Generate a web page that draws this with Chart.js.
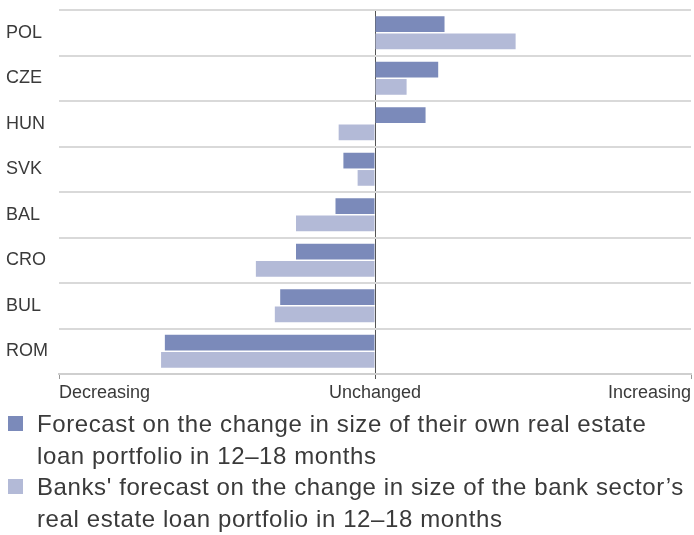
<!DOCTYPE html>
<html>
<head>
<meta charset="utf-8">
<script src="https://cdn.jsdelivr.net/npm/chart.js@4"></script>
<style>
  body { margin: 0; background: #fff; width: 694px; height: 535px; overflow: hidden; position: relative; }
  #wrap { position: absolute; left: 0; top: 0; width: 694px; height: 411px; }
  .legend { position: absolute; left: 0; top: 408px; font-family: "Liberation Sans", Arial, sans-serif; font-size: 24px; letter-spacing: 0.6px; line-height: 31.7px; color: #3a3a3a; }
  .legend .item { position: relative; padding-left: 37px; white-space: nowrap; }
  .legend .swatch { position: absolute; left: 8px; top: 7.5px; width: 15px; height: 15px; }
</style>
</head>
<body>
<div id="wrap"><canvas id="outlookChart"></canvas></div>
<div class="legend" id="legend"></div>
<script>
// Survey categories and net outlook per country
const categories = ['POL', 'CZE', 'HUN', 'SVK', 'BAL', 'CRO', 'BUL', 'ROM'];
const ownPortfolio = [0.22, 0.20, 0.16, -0.10, -0.125, -0.25, -0.30, -0.665];
const sectorPortfolio = [0.445, 0.10, -0.115, -0.055, -0.25, -0.377, -0.317, -0.677];

// Value axis: -1 = decreasing, 0 = unchanged, 1 = increasing
const tickValues = [-1, 0, 1];
const tickLabels = ['Decreasing', 'Unchanged', 'Increasing'];

const seriesNames = [
    ['Forecast on the change in size of their own real estate', 'loan portfolio in 12\u201318 months'],
    ['Banks\' forecast on the change in size of the bank sector\u2019s', 'real estate loan portfolio in 12\u201318 months']
];

const colors = {
    own: '#7b8aba',
    sector: '#b3bad7',
    grid: '#d9d9d9',
    zero: '#555555',
    text: '#3a3a3a'
};

const fontFamily = '"Liberation Sans", Arial, sans-serif';

new Chart(document.getElementById('outlookChart'), {
    type: 'bar',
    data: {
        labels: categories,
        datasets: [{
            label: seriesNames[0].join(' '),
            data: ownPortfolio,
            backgroundColor: colors.own,
            borderWidth: 0,
            categoryPercentage: 0.76,
            barPercentage: 0.91
        }, {
            label: seriesNames[1].join(' '),
            data: sectorPortfolio,
            backgroundColor: colors.sector,
            borderWidth: 0,
            categoryPercentage: 0.76,
            barPercentage: 0.91
        }]
    },
    options: {
        indexAxis: 'y',
        responsive: true,
        maintainAspectRatio: false,
        animation: false,
        layout: { padding: { left: 6, right: 3, top: 10, bottom: 4 } },
        plugins: {
            legend: { display: false },
            tooltip: { enabled: false }
        },
        scales: {
            x: {
                min: -1,
                max: 1,
                afterBuildTicks: (scale) => {
                    scale.ticks = tickValues.map(v => ({ value: v }));
                },
                afterFit: (scale) => {
                    scale.paddingLeft = 0;
                    scale.paddingRight = 0;
                },
                ticks: {
                    align: 'inner',
                    padding: 5,
                    color: colors.text,
                    font: { family: fontFamily, size: 18, lineHeight: 1 },
                    callback: (value) => tickLabels[tickValues.indexOf(value)]
                },
                grid: {
                    color: (ctx) => ctx.tick && ctx.tick.value === 0 ? colors.zero : 'rgba(0,0,0,0)',
                    tickColor: (ctx) => ctx.tick && ctx.tick.value === 0 ? colors.zero : '#9a9a9a',
                    tickLength: 5,
                    lineWidth: 1
                },
                border: { color: '#cfcfcf', width: 2 }
            },
            y: {
                afterFit: (scale) => {
                    scale.width = 53;
                    scale.paddingTop = 0;
                    scale.paddingBottom = 0;
                },
                ticks: {
                    crossAlign: 'far',
                    color: colors.text,
                    font: { family: fontFamily, size: 18, lineHeight: 1 }
                },
                grid: {
                    color: colors.grid,
                    lineWidth: 2,
                    drawTicks: false
                },
                border: { display: false }
            }
        }
    }
});

// Two-line legend entries below the chart
const legendEl = document.getElementById('legend');
[colors.own, colors.sector].forEach((c, i) => {
    const item = document.createElement('div');
    item.className = 'item';
    item.innerHTML = '<span class="swatch" style="background:' + c + '"></span>' + seriesNames[i].join('<br>');
    legendEl.appendChild(item);
});
</script>
</body>
</html>
